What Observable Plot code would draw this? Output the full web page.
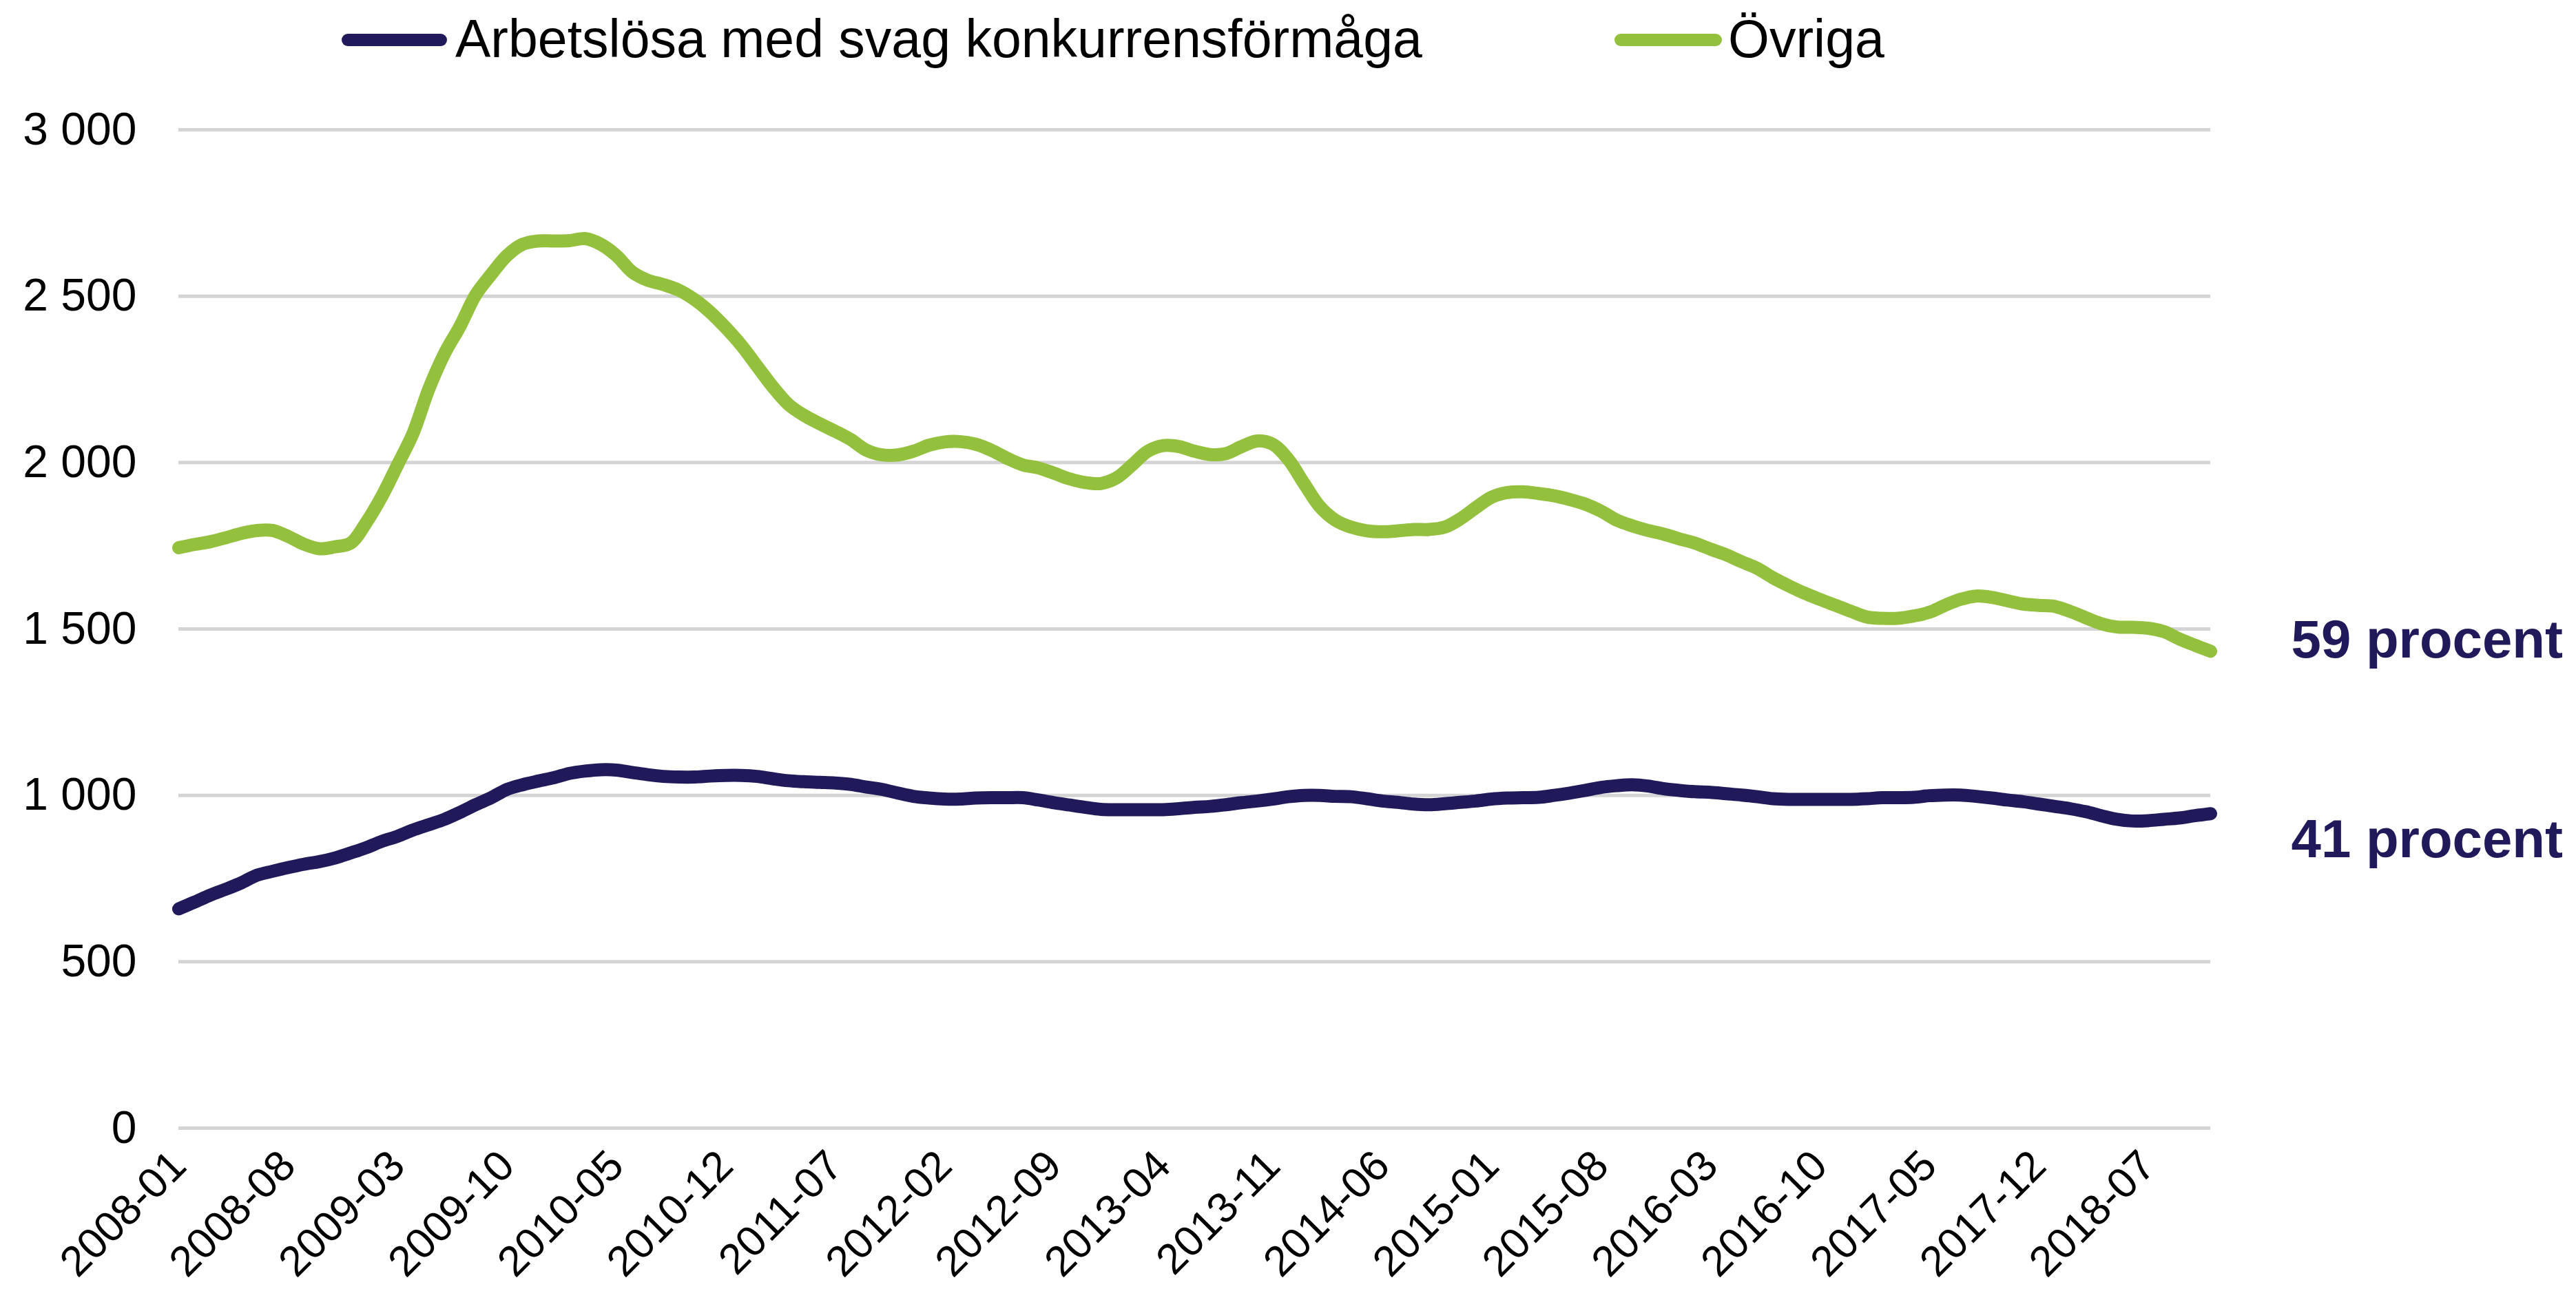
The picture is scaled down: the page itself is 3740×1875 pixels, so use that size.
<!DOCTYPE html>
<html>
<head>
<meta charset="utf-8">
<script src="https://cdn.jsdelivr.net/npm/d3@7"></script>
<script src="https://cdn.jsdelivr.net/npm/@observablehq/plot@0.6"></script>
<style>
  html, body { margin: 0; padding: 0; background: #ffffff; }
  body { width: 3740px; height: 1875px; overflow: hidden; font-family: "Liberation Sans", Arial, sans-serif; }
  #legend { position: relative; width: 3740px; height: 120px; }
  .sw { position: absolute; height: 18px; border-radius: 9px; }
  .lt { position: absolute; font-size: 77px; line-height: 77px; color: #000; white-space: nowrap; }
  #chart svg { display: block; }
</style>
</head>
<body>
<div id="legend"></div>
<div id="chart"></div>
<script>
// ---------- DATA ----------
const seriesNames = ["Arbetslösa med svag konkurrensförmåga", "Övriga"];
const seriesColors = ["#201A5B", "#93C13D"];
const endLabels = ["41 procent", "59 procent"];

// x tick labels (every 7th month)
const tickLabels = ["2008-01","2008-08","2009-03","2009-10","2010-05","2010-12","2011-07","2012-02",
  "2012-09","2013-04","2013-11","2014-06","2015-01","2015-08","2016-03","2016-10","2017-05","2017-12","2018-07"];

const yTicks = [0, 500, 1000, 1500, 2000, 2500, 3000];

// monthly categories 2008-01 .. 2018-11
const months = [];
for (let y = 2008; y <= 2018; y++) {
  for (let m = 1; m <= 12; m++) {
    if (y === 2018 && m > 11) break;
    months.push(`${y}-${String(m).padStart(2, "0")}`);
  }
}

// Arbetslösa med svag konkurrensförmåga
const svag = [
  659,679,700,718,737,760,772,783,793,801,812,827,843,862,877,896,912,928,949,972,
  993,1018,1032,1043,1053,1066,1073,1077,1076,1069,1062,1057,1055,1055,1058,1060,1060,1057,1050,1044,
  1041,1039,1037,1033,1025,1018,1007,997,992,989,989,992,993,993,993,986,978,971,964,958,
  957,957,957,957,960,964,967,972,978,983,989,996,1000,1000,997,996,990,983,979,974,
  972,975,979,983,989,992,993,994,1000,1007,1015,1024,1029,1032,1028,1020,1015,1011,1009,1005,
  1001,996,990,988,988,988,988,988,990,993,993,994,999,1001,1001,997,992,986,981,974,
  967,960,951,939,928,923,924,928,932,939,945
];

// Övriga
const ovriga = [
  1744,1754,1762,1774,1787,1796,1796,1778,1755,1741,1747,1758,1820,1899,1993,2089,2221,2327,2410,2504,
  2566,2622,2656,2666,2666,2667,2673,2656,2622,2573,2548,2535,2518,2490,2452,2405,2352,2290,2228,2175,
  2142,2117,2094,2069,2037,2023,2023,2034,2052,2062,2063,2055,2037,2013,1993,1984,1968,1951,1940,1937,
  1954,1993,2034,2051,2048,2034,2024,2027,2048,2065,2055,2009,1937,1868,1827,1806,1795,1792,1795,1799,
  1799,1806,1831,1865,1896,1910,1912,1907,1900,1889,1875,1854,1827,1810,1796,1785,1771,1758,1740,1723,
  1702,1682,1654,1630,1608,1589,1571,1553,1536,1532,1532,1539,1550,1571,1589,1599,1595,1585,1575,1571,
  1568,1553,1534,1516,1506,1505,1502,1492,1470,1451,1433
];

// ---------- TABLE ----------
const rows = [];
months.forEach((mo, i) => {
  rows.push({month: mo, value: svag[i], series: seriesNames[0]});
  rows.push({month: mo, value: ovriga[i], series: seriesNames[1]});
});
const last = months[months.length - 1];

// ---------- LEGEND ----------
const legend = document.getElementById("legend");
const legendItems = [
  {sw: 496, swW: 153, tx: 661},
  {sw: 2344, swW: 156, tx: 2509}
];
seriesNames.forEach((name, i) => {
  const s = document.createElement("div");
  s.className = "sw";
  s.style.left = legendItems[i].sw + "px";
  s.style.width = legendItems[i].swW + "px";
  s.style.top = "49px";
  s.style.background = seriesColors[i];
  legend.appendChild(s);
  const t = document.createElement("div");
  t.className = "lt";
  t.style.left = legendItems[i].tx + "px";
  t.style.top = "18px";
  t.textContent = name;
  legend.appendChild(t);
});

// ---------- CHART ----------
const fmt = d => d3.format(",")(d).replace(/,/g, " ");

const chart = Plot.plot({
  width: 3740,
  height: 1755,
  marginTop: 68,
  marginBottom: 237,
  marginLeft: 259,
  marginRight: 531,
  style: {fontFamily: "'Liberation Sans', Arial, sans-serif", background: "#ffffff", color: "#000"},
  x: {type: "point", domain: months, padding: 0, axis: null, label: null},
  y: {domain: [0, 3000], axis: null, label: null},
  color: {domain: seriesNames, range: seriesColors},
  marks: [
    Plot.ruleY(yTicks, {stroke: "#D4D4D4", strokeWidth: 5}),
    Plot.axisY(yTicks, {tickSize: 0, tickPadding: 61, tickFormat: fmt, fontSize: 66, fill: "#000", label: null}),
    Plot.axisX(tickLabels, {tickSize: 0, tickPadding: 44, tickRotate: -45, fontSize: 62, fill: "#000", label: null}),
    Plot.line(rows, {x: "month", y: "value", z: "series", stroke: "series",
      strokeWidth: 19, curve: "catmull-rom", strokeLinecap: "round", strokeLinejoin: "round"}),
    Plot.text([{month: last, value: ovriga[ovriga.length - 1], label: endLabels[1]}],
      {x: "month", y: "value", text: "label", dx: 117, dy: -16, textAnchor: "start",
       fontSize: 78, fontWeight: "bold", fill: seriesColors[0]}),
    Plot.text([{month: last, value: svag[svag.length - 1], label: endLabels[0]}],
      {x: "month", y: "value", text: "label", dx: 117, dy: 38, textAnchor: "start",
       fontSize: 78, fontWeight: "bold", fill: seriesColors[0]})
  ]
});
document.getElementById("chart").appendChild(chart);
</script>
</body>
</html>
